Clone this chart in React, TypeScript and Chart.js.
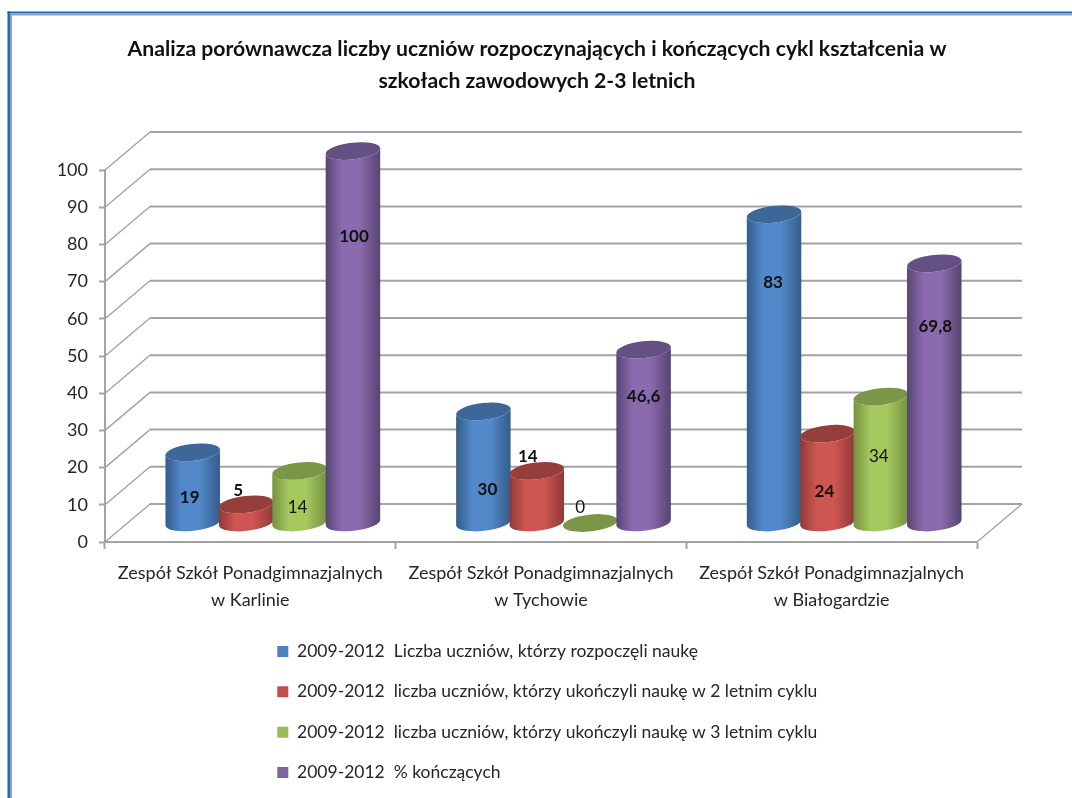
import React, { useEffect, useRef } from "react";
import { Chart, registerables } from "chart.js";

Chart.register(...registerables);

const categories = [
  ["Zespół Szkół Ponadgimnazjalnych", "w Karlinie"],
  ["Zespół Szkół Ponadgimnazjalnych", "w Tychowie"],
  ["Zespół Szkół Ponadgimnazjalnych", "w Białogardzie"],
];
const seriesStarted = [19, 30, 83];
const seriesTwoYear = [5, 14, 24];
const seriesThreeYear = [14, 0, 34];
const seriesPercent = [100, 46.6, 69.8];
const seriesNames = [
  "2009-2012  Liczba uczniów, którzy rozpoczęli naukę",
  "2009-2012  liczba uczniów, którzy ukończyli naukę w 2 letnim cyklu",
  "2009-2012  liczba uczniów, którzy ukończyli naukę w 3 letnim cyklu",
  "2009-2012  % kończących",
];
const titleLines = [
  "Analiza porównawcza liczby uczniów rozpoczynających i kończących cykl kształcenia w",
  "szkołach zawodowych 2-3 letnich",
];

const FONT = "Lato, Carlito, Calibri, sans-serif";
const DEPTH_X = 45;
const DEPTH_Y = 38;
const GRID = "#a3a3a3";

// legend / base colour, edge shade, centre shade, cap shade
const palette = [
  { base: "#4f81bd", edge: "#335c8a", mid: "#5389cb", cap: "#3d6796" },
  { base: "#c0504d", edge: "#8d3a38", mid: "#cf5552", cap: "#963e3c" },
  { base: "#9bbb59", edge: "#75913f", mid: "#a5c85f", cap: "#7b9646" },
  { base: "#8064a2", edge: "#574471", mid: "#8a6bae", cap: "#655084" },
];

// per-label nudge from the cylinder cap, and weight (dataset, then category)
const labelPlacement = [
  [{ dx: -3, dy: 45, b: 1 }, { dx: 4, dy: 78, b: 1 }, { dx: -1, dy: 68, b: 1 }],
  [{ dx: -8, dy: -14, b: 1 }, { dx: -9, dy: -14, b: 1 }, { dx: -3, dy: 58, b: 1 }],
  [{ dx: -2, dy: 37, b: 0 }, { dx: -10, dy: -15, b: 0 }, { dx: -2, dy: 60, b: 0 }],
  [{ dx: 1, dy: 85, b: 1 }, { dx: 0, dy: 47, b: 1 }, { dx: 1, dy: 63, b: 1 }],
];

const framePlugin = {
  id: "frame",
  beforeDraw(chart: any) {
    const { ctx, width, height } = chart;
    ctx.save();
    ctx.fillStyle = "#fff";
    ctx.fillRect(0, 0, width, height);
    ctx.fillStyle = "#0f6fc6";
    ctx.fillRect(7.5, 11.5, width, 2);
    ctx.fillRect(7.5, 11.5, 2.5, height);
    ctx.fillStyle = "#a0a0a0";
    ctx.fillRect(10, 13.5, width, 2);
    ctx.fillRect(10, 13.5, 2, height);
    ctx.restore();
  },
};

const placementPlugin = {
  id: "placement",
  afterLayout(chart: any) {
    const l = chart.legend;
    const w = l.width;
    const h = l.height;
    l.left = 254.5;
    l.right = 254.5 + w;
    l.top = 620;
    l.bottom = 620 + h;
    chart.titleBlock.left = 0;
    chart.titleBlock.right = chart.width + 2;
  },
};

const cylinderPlugin = {
  id: "cylinders",
  beforeDatasetsDraw(chart: any) {
    const { ctx, chartArea, scales } = chart;
    const y = scales.y;
    ctx.save();
    // back wall, side wall and floor
    ctx.strokeStyle = GRID;
    y.ticks.forEach((t: any) => {
      const py = y.getPixelForValue(t.value);
      ctx.lineWidth = 1.4;
      ctx.beginPath();
      ctx.moveTo(chartArea.left, py);
      ctx.lineTo(chartArea.left + DEPTH_X, py - DEPTH_Y);
      ctx.stroke();
      ctx.lineWidth = 2;
      ctx.beginPath();
      ctx.moveTo(chartArea.left + DEPTH_X, py - DEPTH_Y);
      ctx.lineTo(chartArea.right + DEPTH_X, py - DEPTH_Y);
      ctx.stroke();
    });
    ctx.lineWidth = 1.4;
    ctx.beginPath();
    ctx.moveTo(chartArea.right, chartArea.bottom);
    ctx.lineTo(chartArea.right + DEPTH_X, chartArea.bottom - DEPTH_Y);
    ctx.stroke();

    // cylinders, left to right in each group so each covers the previous one
    const rot = -0.11;
    const ry = 8.4;
    const dx = DEPTH_X / 2;
    const dy = DEPTH_Y / 2;
    const count = chart.data.labels.length;
    for (let c = 0; c < count; c++) {
      chart.data.datasets.forEach((_: any, d: number) => {
        const bar = chart.getDatasetMeta(d).data[c];
        const p = bar.getProps(["x", "y", "base", "width"], true);
        const cx = p.x + dx;
        const rx = p.width / 2 + 0.7;
        const top = p.y - dy;
        const bottom = p.base - dy;
        const col = palette[d];
        const g = ctx.createLinearGradient(cx - rx, 0, cx + rx, 0);
        g.addColorStop(0, col.edge);
        g.addColorStop(0.3, col.mid);
        g.addColorStop(0.62, col.mid);
        g.addColorStop(1, col.edge);
        ctx.fillStyle = g;
        ctx.beginPath();
        ctx.ellipse(cx, bottom, rx, ry, rot, Math.PI, 0, true);
        ctx.ellipse(cx, top, rx, ry, rot, 0, Math.PI, false);
        ctx.closePath();
        ctx.fill();
        ctx.fillStyle = col.cap;
        ctx.beginPath();
        ctx.ellipse(cx, top, rx, ry, rot, 0, Math.PI * 2);
        ctx.fill();
      });
    }

    // value labels
    ctx.fillStyle = "#111";
    ctx.textAlign = "center";
    ctx.textBaseline = "middle";
    chart.data.datasets.forEach((ds: any, d: number) => {
      ds.data.forEach((v: number, c: number) => {
        const bar = chart.getDatasetMeta(d).data[c];
        const p = bar.getProps(["x", "y"], true);
        const pl = labelPlacement[d][c];
        ctx.font = `${pl.b ? "bold " : ""}17px ${FONT}`;
        ctx.fillText(String(v).replace(".", ","), p.x + dx + pl.dx, p.y - dy + pl.dy);
      });
    });
    ctx.restore();
    return false;
  },
};

export default function App() {
  const ref = useRef<HTMLCanvasElement>(null);
  useEffect(() => {
    const values = [seriesStarted, seriesTwoYear, seriesThreeYear, seriesPercent];
    const chart = new Chart(ref.current!, {
      type: "bar",
      data: {
        labels: categories,
        datasets: values.map((data, i) => ({
          label: seriesNames[i],
          data,
          backgroundColor: palette[i].base,
          borderWidth: 0,
          barPercentage: 1,
          categoryPercentage: 0.735,
        })),
      },
      plugins: [framePlugin, placementPlugin, cylinderPlugin],
      options: {
        responsive: false,
        animation: false,
        devicePixelRatio: 1,
        layout: { padding: { left: 0, right: 95, top: 0, bottom: 0 } },
        scales: {
          x: {
            afterFit: (s: any) => { s.height = 256; },
            grid: { drawOnChartArea: false, drawTicks: true, tickLength: 7, tickColor: GRID, tickWidth: 2 },
            border: { color: GRID, width: 2 },
            ticks: {
              color: "#262626",
              font: { family: FONT, size: 18, lineHeight: 1.47 },
              padding: 11,
              maxRotation: 0,
              autoSkip: false,
            },
          },
          y: {
            min: 0,
            max: 100,
            afterFit: (s: any) => { s.width = 105; },
            grid: { drawOnChartArea: false, drawTicks: true, tickLength: 6, tickColor: GRID, tickWidth: 2 },
            border: { color: GRID, width: 2 },
            ticks: {
              stepSize: 10,
              color: "#262626",
              font: { family: FONT, size: 18 },
              padding: 11,
            },
          },
        },
        plugins: {
          tooltip: { enabled: false },
          title: {
            display: true,
            text: titleLines,
            color: "#111",
            font: { family: FONT, size: 21.2, weight: "bold", lineHeight: 1.51 },
            padding: { top: 33, bottom: 73 },
          },
          legend: {
            position: "chartArea",
            align: "start",
            labels: {
              color: "#262626",
              font: { family: FONT, size: 17.5 },
              boxWidth: 11,
              boxHeight: 11,
              padding: 22.8,
            },
          },
        },
      },
    } as any);
    return () => chart.destroy();
  }, []);
  return (
    <div style={{ position: "absolute", left: 0, top: 0, width: 1072, height: 798 }}>
      <canvas ref={ref} width={1072} height={798} style={{ display: "block", filter: "blur(0.4px)" }} />
    </div>
  );
}
